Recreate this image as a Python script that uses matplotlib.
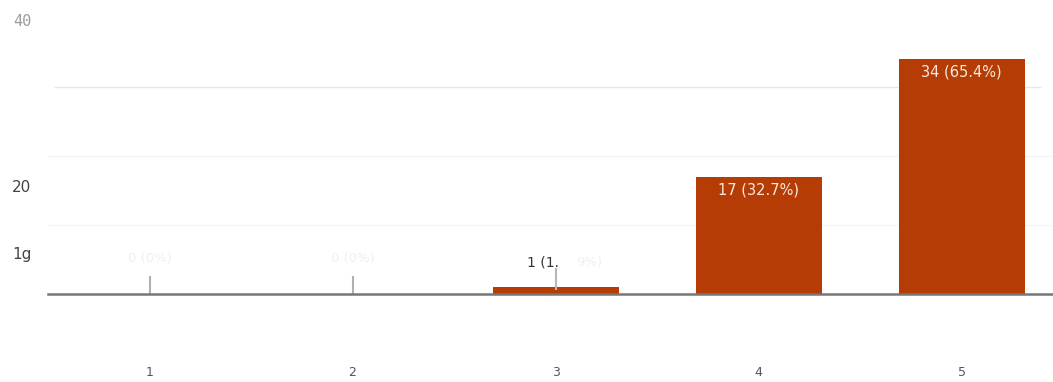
import matplotlib.pyplot as plt

categories = ["1", "2", "3", "4", "5"]
counts = [0, 0, 1, 17, 34]
percents = ["0%", "0%", "1.9%", "32.7%", "65.4%"]

ytick_pos = [39.7, 15.6, 6.0]
ytick_labels = ["40", "20", "1g"]
ytick_colors = ["#9a9a9a", "#444444", "#444444"]

BAR_COLOR = "#b53d05"

fig = plt.figure(figsize=(10.53, 3.82), dpi=100)
ax = fig.add_axes([48 / 1053, 88 / 382, 1005 / 1053, 276 / 382])

x = list(range(1, len(categories) + 1))

# faint gridlines
ax.axhline(30, color="#e6e6e6", lw=1, xmin=0.007, xmax=0.987, zorder=0)
ax.axhline(20, color="#f3f3f3", lw=1, zorder=0)
ax.axhline(10, color="#f5f5f5", lw=1, zorder=0)

ax.bar(x, counts, width=0.62, color=BAR_COLOR, zorder=2)

for xi, c, p in zip(x, counts, percents):
    label = "%d (%s)" % (c, p)
    if c >= 5:
        ax.text(xi, c - 0.8, label, ha="center", va="top", color="#f7e9df",
                fontsize=10.5, zorder=3)
    elif c == 0:
        ax.vlines(xi, 0, 2.6, color="#b0b0b0", lw=1.5, zorder=3)
        ax.text(xi, 5.2, label, ha="center", va="center", color="#f0f0f0",
                fontsize=9.5, zorder=3)
    else:
        ax.vlines(xi, 0.6, 3.8, color="#b8b8b8", lw=1.5, zorder=3)
        ax.text(xi - 0.06, 4.6, "%d (1." % c, ha="center", va="center",
                color="#333333", fontsize=10, zorder=4)
        ax.text(xi + 0.1, 4.6, "9%)", ha="left", va="center",
                color="#f0f0f0", fontsize=9.5, zorder=4)

ax.set_xlim(0.5, 5.45)
ax.set_ylim(0, 40)

ax.set_xticks(x)
ax.set_xticklabels(categories, fontsize=9, color="#555555")
ax.tick_params(axis="x", length=0, pad=52)

ax.set_yticks(ytick_pos)
ax.set_yticklabels(ytick_labels, fontsize=11)
ax.tick_params(axis="y", length=0, pad=12)
for lbl, col in zip(ax.get_yticklabels(), ytick_colors):
    lbl.set_color(col)
ax.get_yticklabels()[0].set_family("DejaVu Sans Mono")

for side in ["top", "right", "left"]:
    ax.spines[side].set_visible(False)
ax.spines["bottom"].set_color("#777777")
ax.spines["bottom"].set_linewidth(1.8)
ax.spines["bottom"].set_zorder(5)

fig.savefig("out.png", dpi=100)
